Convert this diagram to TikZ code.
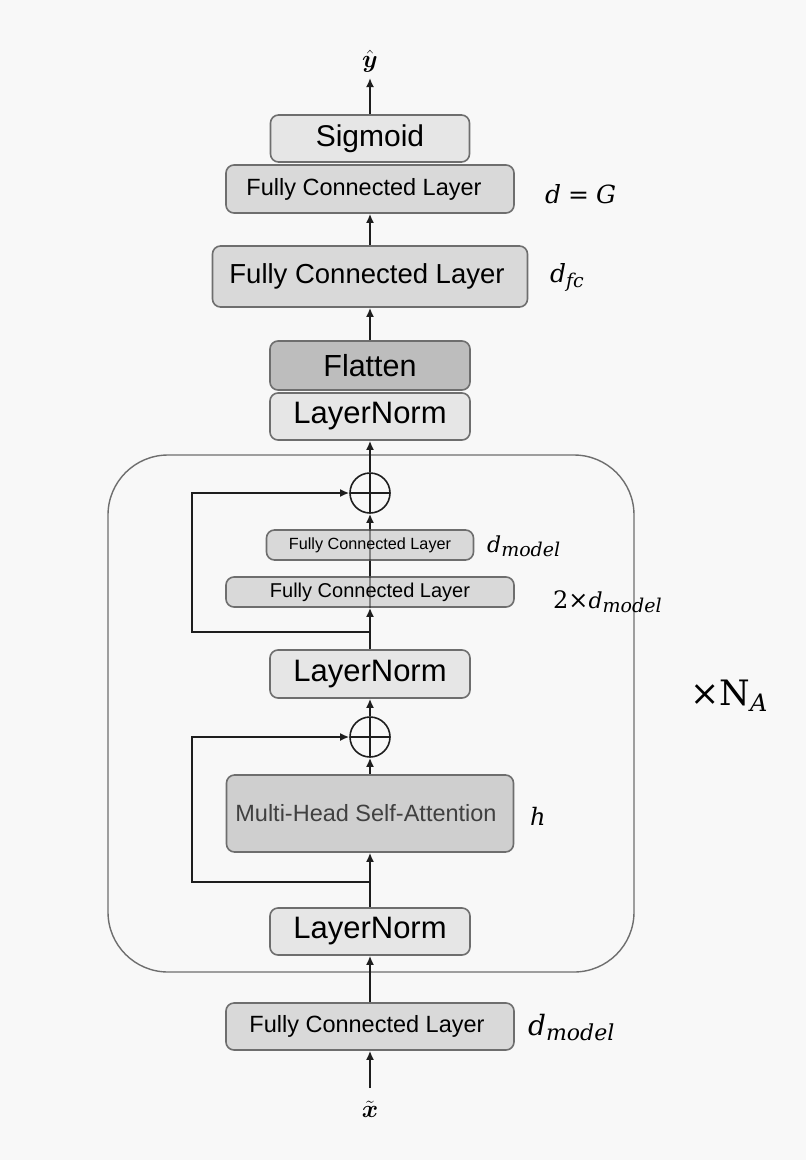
\documentclass[tikz,border=0pt]{standalone}
\usepackage{amsmath}
\usepackage{fontspec}
\newfontfamily\boxfont{Liberation Sans}
\newfontfamily\labf{DejaVu Serif}
\usetikzlibrary{arrows.meta}
\definecolor{bgc}{HTML}{F8F8F8}
\definecolor{edgec}{HTML}{6E6E6E}
\definecolor{lightf}{HTML}{E6E6E6}
\definecolor{midf}{HTML}{D9D9D9}
\definecolor{darkf}{HTML}{BDBDBD}
\definecolor{mhsaf}{HTML}{CFCFCF}
\definecolor{linec}{HTML}{1E1E1E}
% main letter, its size, subscript text, subscript size, drop
\newcommand\labsub[5]{{\fontsize{#2}{#2}\selectfont #1}\raisebox{-#5}{\fontsize{#4}{#4}\selectfont #3}}
\tikzset{
  blk/.style={draw=edgec, line width=1.6pt, rounded corners=8pt, inner sep=0pt, align=center, font=\boxfont, text=black},
  arr/.style={draw=linec, line width=1.8pt, -{Latex[length=9pt,width=8pt]}},
  ln/.style={draw=linec, line width=1.8pt},
  lab/.style={anchor=base west, inner sep=0pt, font=\labf\itshape, text=black},
  plus/.style={circle, draw=linec, line width=1.6pt, minimum size=40pt, inner sep=0pt,
    path picture={\draw[linec, line width=1.6pt] (path picture bounding box.north) -- (path picture bounding box.south)
      (path picture bounding box.west) -- (path picture bounding box.east);}}
}
\begin{document}
\begin{tikzpicture}[x=1pt,y=-1pt]
\useasboundingbox[fill=bgc] (0,0) rectangle (806,1160);
% big repeated block
\draw[draw=edgec, line width=1.4pt, rounded corners=60pt] (108,455) rectangle (634,972);
% nodes
\node[blk, fill=lightf, minimum width=199pt, minimum height=47pt, font=\boxfont\fontsize{30}{34}\selectfont] (sig) at (370,138.5) {Sigmoid};
\node[blk, fill=midf, minimum width=288pt, minimum height=48pt, font=\boxfont\fontsize{23.5}{28}\selectfont] (fcg) at (370,189) {\hspace*{-12pt}Fully Connected Layer};
\node[blk, fill=midf, minimum width=315pt, minimum height=61pt, font=\boxfont\fontsize{27.5}{32}\selectfont] (fcfc) at (370,276.5) {\hspace*{-6pt}Fully Connected Layer};
\node[blk, fill=darkf, minimum width=200pt, minimum height=49pt, font=\boxfont\fontsize{30.5}{34}\selectfont] (flat) at (370,365.5) {Flatten};
\node[blk, fill=lightf, minimum width=200pt, minimum height=47pt, font=\boxfont\fontsize{31}{34}\selectfont] (ln1) at (370,416.5) {LayerNorm};
\node[plus] (p1) at (370,493) {};
\node[blk, fill=midf, minimum width=207pt, minimum height=30pt, font=\boxfont\fontsize{16.2}{20}\selectfont] (fcs) at (370,545) {Fully Connected Layer};
\node[blk, fill=midf, minimum width=288pt, minimum height=30pt, font=\boxfont\fontsize{20}{24}\selectfont] (fc2) at (370,592) {Fully Connected Layer};
\node[blk, fill=lightf, minimum width=200pt, minimum height=48pt, font=\boxfont\fontsize{31}{34}\selectfont] (ln2) at (370,674) {LayerNorm};
\node[plus] (p2) at (370,737) {};
\node[blk, fill=mhsaf, minimum width=287pt, minimum height=77pt, text=black!75, font=\boxfont\fontsize{23.5}{28}\selectfont] (mhsa) at (370,813.5) {\hspace*{-8pt}Multi-Head Self-Attention};
\node[blk, fill=lightf, minimum width=200pt, minimum height=47pt, font=\boxfont\fontsize{31}{34}\selectfont] (ln3) at (370,931.5) {LayerNorm};
\node[blk, fill=midf, minimum width=288pt, minimum height=47pt, font=\boxfont\fontsize{23.5}{28}\selectfont] (fcb) at (370,1026.5) {\hspace*{-6pt}Fully Connected Layer};
% inputs / outputs
\node[inner sep=0pt, font=\fontsize{35}{38}\selectfont] (yhat) at (370,61) {$\hat{\boldsymbol{y}}$};
\node[inner sep=0pt, font=\fontsize{35}{38}\selectfont] (xt) at (370,1109) {$\tilde{\boldsymbol{x}}$};
\coordinate (ytip) at (370,78);
\coordinate (xbase) at (370,1088);
\coordinate (b1) at (370,632);
\coordinate (b2) at (370,882);
% connectors
\draw[arr] (sig.north) -- (ytip);
\draw[arr] (fcfc.north) -- (fcg.south);
\draw[arr] (flat.north) -- (fcfc.south);
\draw[arr] (p1.north) -- (ln1.south);
\draw[arr] (fcs.north) -- (p1.south);
\draw[ln] (fc2.north) -- (fcs.south);
\draw[arr] (ln2.north) -- (fc2.south);
\draw[arr] (b1) -- ++(-178,0) |- (p1.west);
\draw[arr] (p2.north) -- (ln2.south);
\draw[arr] (mhsa.north) -- (p2.south);
\draw[arr] (ln3.north) -- (mhsa.south);
\draw[arr] (b2) -- ++(-178,0) |- (p2.west);
\draw[arr] (fcb.north) -- (ln3.south);
\draw[arr] (xbase) -- (fcb.south);
% faint line through the stacked FC layers
\draw[linec, line width=1.6pt, opacity=0.45] (fc2.south) -- (fcs.north);
% labels
\node[lab, font=\labf\itshape\fontsize{25}{28}\selectfont] (lg) at (545,203) {d\hspace{7pt}=\hspace{7pt}G};
\node[lab] (lfc) at (550,282) {\labsub{d}{25pt}{fc}{19pt}{5pt}};
\node[lab] (lm1) at (487,552) {\labsub{d}{22pt}{model}{19pt}{4pt}};
\node[lab] (lm2) at (553,608) {{\upshape\fontsize{24}{24}\selectfont 2×}\labsub{d}{22pt}{model}{19pt}{4pt}};
\node[lab, font=\labf\itshape\fontsize{24}{28}\selectfont] (lh) at (530,825) {h};
\node[lab, font=\labf\upshape] (lna) at (690,705) {\labsub{×N}{35pt}{\itshape A}{24pt}{6pt}};
\node[lab] (lm3) at (528,1035) {\labsub{d}{28pt}{model}{22pt}{5pt}};
\end{tikzpicture}
\end{document}
